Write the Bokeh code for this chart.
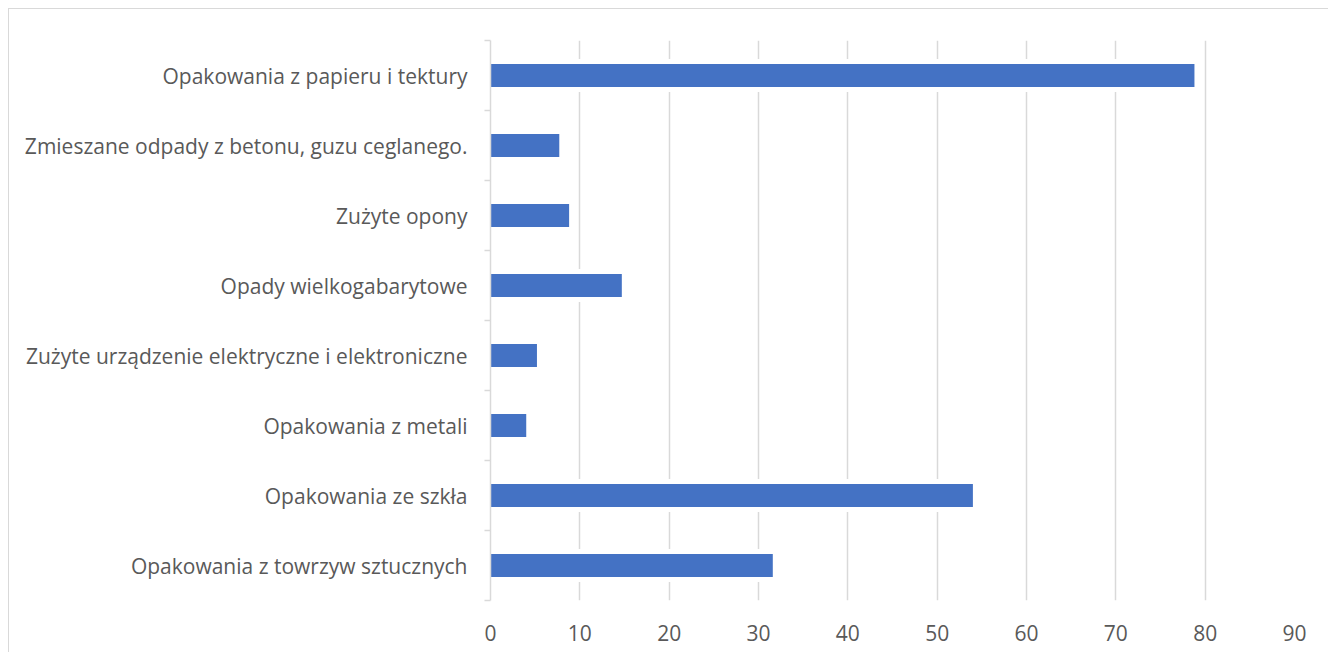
from bokeh.plotting import figure
from bokeh.models import Range1d, FixedTicker
from bokeh.embed import file_html
from bokeh.resources import INLINE

# categories from top to bottom
categories = [
    "Opakowania z papieru i tektury",
    "Zmieszane odpady z betonu, guzu ceglanego.",
    "Zużyte opony",
    "Opady wielkogabarytowe",
    "Zużyte urządzenie elektryczne i elektroniczne",
    "Opakowania z metali",
    "Opakowania ze szkła",
    "Opakowania z towrzyw sztucznych",
]
values = [78.8, 7.7, 8.8, 14.7, 5.2, 4.0, 54.0, 31.6]
x_ticks = [0, 10, 20, 30, 40, 50, 60, 70, 80, 90]

n = len(categories)
ypos = [n - 1 - i for i in range(n)]

FONT = "Open Sans"
TXT = "#595959"
GRID = "#D9D9D9"

p = figure(width=1320, height=644, output_backend="svg", toolbar_location=None,
           x_range=Range1d(0, 90), y_range=Range1d(-0.5, n - 0.5),
           min_border_left=481, min_border_top=31, min_border_right=35, min_border_bottom=53)
p.styles = {"border-top": "1px solid #D9D9D9", "border-left": "1px solid #D9D9D9",
            "margin-left": "8px", "margin-top": "8px"}
p.outline_line_color = None
p.background_fill_color = "white"
p.border_fill_color = "white"

# white halo behind bars (hides gridlines around bars)
p.hbar(y=ypos, right=values, left=0, height=0.47, color="white", line_color=None)
p.hbar(y=ypos, right=values, left=0, height=0.33, fill_color="#4472C4", line_color=None)

p.xgrid.ticker = FixedTicker(ticks=x_ticks)
p.xgrid.grid_line_color = GRID
p.xgrid.grid_line_width = 1.5
p.ygrid.grid_line_color = None

xa = p.xaxis[0]
xa.ticker = FixedTicker(ticks=x_ticks)
xa.axis_line_color = None
xa.major_tick_line_color = None
xa.minor_tick_line_color = None
xa.major_label_text_font = FONT
xa.major_label_text_font_size = "21px"
xa.major_label_text_color = TXT
xa.major_label_standoff = 18

ya = p.yaxis[0]
ya.ticker = FixedTicker(ticks=ypos, minor_ticks=[v - 0.5 for v in range(n + 1)])
ya.major_label_overrides = {y: c for y, c in zip(ypos, categories)}
ya.axis_line_color = GRID
ya.axis_line_width = 1.5
ya.major_tick_line_color = None
ya.minor_tick_line_color = GRID
ya.minor_tick_line_width = 1.5
ya.minor_tick_out = 6
ya.minor_tick_in = 0
ya.major_label_text_font = FONT
ya.major_label_text_font_size = "21px"
ya.major_label_text_color = TXT
ya.major_label_standoff = 17

open("out.html", "w").write(file_html(p, INLINE))
